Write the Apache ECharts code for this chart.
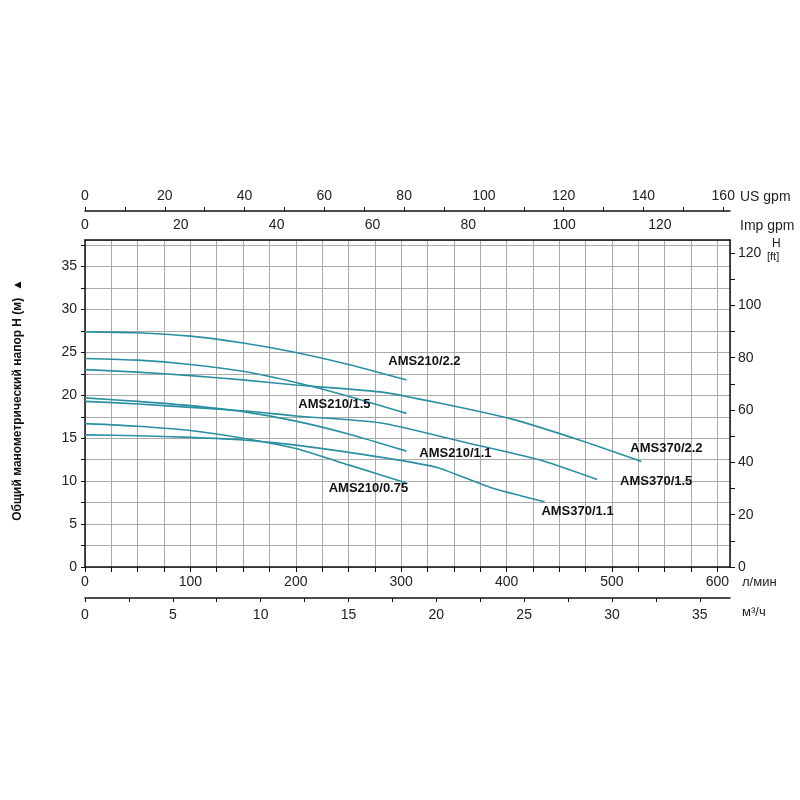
<!DOCTYPE html>
<html><head><meta charset="utf-8">
<script src="https://cdn.jsdelivr.net/npm/echarts@6/dist/echarts.min.js"></script>
<style>html,body{margin:0;background:#fff}#main{width:800px;height:800px}</style>
</head><body><div id="main"></div>
<script>
// flow in l/min, head in m
var ams210_22 = [[0,27.4],[50,27.3],[100,26.9],[150,26.1],[200,25.0],[250,23.6],[305,21.8]];
var ams210_15 = [[0,24.3],[50,24.1],[100,23.6],[150,22.8],[200,21.5],[250,19.9],[305,17.9]];
var ams210_11 = [[0,19.7],[50,19.3],[100,18.8],[150,18.1],[200,17.0],[250,15.5],[305,13.5]];
var ams210_075 = [[0,16.7],[50,16.4],[100,15.9],[150,15.0],[200,13.8],[250,11.9],[305,9.8]];
var ams370_22 = [[0,23.0],[50,22.7],[100,22.3],[150,21.8],[200,21.2],[280,20.4],[336,19.1],[406,17.2],[469,14.8],[528,12.3]];
var ams370_15 = [[0,19.3],[50,19.0],[100,18.6],[150,18.2],[200,17.6],[280,16.8],[358,14.6],[431,12.5],[486,10.2]];
var ams370_11 = [[0,15.4],[50,15.3],[100,15.1],[150,14.8],[200,14.2],[280,12.8],[334,11.6],[384,9.3],[436,7.6]];

var curves = [
  {name: 'AMS210/2.2', data: ams210_22, off: [18, -18]},
  {name: 'AMS210/1.5', data: ams210_15, off: [-72, -9]},
  {name: 'AMS210/1.1', data: ams210_11, off: [49, 2]},
  {name: 'AMS210/0.75', data: ams210_075, off: [-38, 6]},
  {name: 'AMS370/2.2', data: ams370_22, off: [25, -13]},
  {name: 'AMS370/1.5', data: ams370_15, off: [59, 2]},
  {name: 'AMS370/1.1', data: ams370_11, off: [33, 10]}
];

var QMAX = 612, HMAX = 38.1;
var txt = {color: '#222', fontSize: 14, fontFamily: 'Liberation Sans, Arial'};
var line = {onZero: false, lineStyle: {color: '#111', width: 1.5}};
function every(step) {
  return function (v) { return Math.abs(v / step - Math.round(v / step)) < 1e-6 ? String(Math.round(v)) : ''; };
}

var chart = echarts.init(document.getElementById('main'));
chart.setOption({
  animation: false,
  grid: {left: 85, right: 70, top: 240, bottom: 233},
  xAxis: [
    {type: 'value', min: 0, max: QMAX, interval: 25, position: 'bottom',
     axisLine: line, axisTick: {length: 5, lineStyle: {color: '#111'}},
     axisLabel: Object.assign({formatter: every(100), showMaxLabel: false}, txt),
     splitLine: {lineStyle: {color: '#aaa', width: 1}}},
    {type: 'value', min: 0, max: QMAX * 0.06, interval: 2.5, position: 'bottom', offset: 31,
     axisLine: line, axisTick: {length: 4, lineStyle: {color: '#111'}},
     axisLabel: Object.assign({formatter: every(5), showMaxLabel: false, margin: 10}, txt),
     splitLine: {show: false}},
    {type: 'value', min: 0, max: QMAX / 3.785, interval: 10, position: 'top', offset: 29,
     axisLine: line, axisTick: {length: 4, lineStyle: {color: '#111'}},
     axisLabel: Object.assign({formatter: every(20), showMaxLabel: false}, txt),
     splitLine: {show: false}},
    {type: 'value', min: 0, max: QMAX / 4.546, interval: 20, position: 'top',
     axisLine: line, axisTick: {show: false},
     axisLabel: Object.assign({showMaxLabel: false}, txt),
     splitLine: {show: false}}
  ],
  yAxis: [
    {type: 'value', min: 0, max: HMAX, interval: 2.5, position: 'left',
     axisLine: {show: true, onZero: false, lineStyle: {color: '#111', width: 1.5}},
     axisTick: {show: true, length: 4, lineStyle: {color: '#111'}},
     axisLabel: Object.assign({formatter: every(5), showMaxLabel: false}, txt),
     splitLine: {lineStyle: {color: '#aaa', width: 1}}},
    {type: 'value', min: 0, max: HMAX * 3.2808, interval: 10, position: 'right',
     axisLine: {show: true, onZero: false, lineStyle: {color: '#111', width: 1.5}},
     axisTick: {show: true, length: 5, lineStyle: {color: '#111'}},
     axisLabel: Object.assign({formatter: every(20), showMaxLabel: false}, txt),
     splitLine: {show: false}}
  ],
  series: curves.map(function (c) {
    return {
      type: 'line', name: c.name, data: c.data, smooth: 0.2, symbol: 'none',
      xAxisIndex: 0, yAxisIndex: 0,
      lineStyle: {color: '#2b8fa3', width: 1.6},
      endLabel: {show: true, formatter: c.name, offset: c.off, distance: 0,
        align: 'center', verticalAlign: 'middle',
        color: '#111', fontWeight: 'bold', fontSize: 13, fontFamily: 'Liberation Sans, Arial'}
    };
  }),
  graphic: [
    {type: 'text', left: 740, top: 190, style: {text: 'US gpm', fill: '#222', font: '14px Liberation Sans'}},
    {type: 'text', left: 740, top: 219, style: {text: 'Imp gpm', fill: '#222', font: '14px Liberation Sans'}},
    {type: 'text', left: 742, top: 576, style: {text: 'л/мин', fill: '#222', font: '13px Liberation Sans'}},
    {type: 'text', left: 742, top: 606, style: {text: 'м³/ч', fill: '#222', font: '13px Liberation Sans'}},
    {type: 'text', left: 772, top: 238, style: {text: 'H', fill: '#222', font: '12px Liberation Sans'}},
    {type: 'text', left: 767, top: 251, style: {text: '[ft]', fill: '#222', font: '11px Liberation Sans'}},
    {type: 'text', x: 18, y: 400, rotation: Math.PI / 2, style: {
      text: 'Общий манометрический напор H (м)  ▲', fill: '#111', align: 'center', verticalAlign: 'middle',
      font: 'bold 12px Liberation Sans'}}
  ]
});
</script></body></html>
